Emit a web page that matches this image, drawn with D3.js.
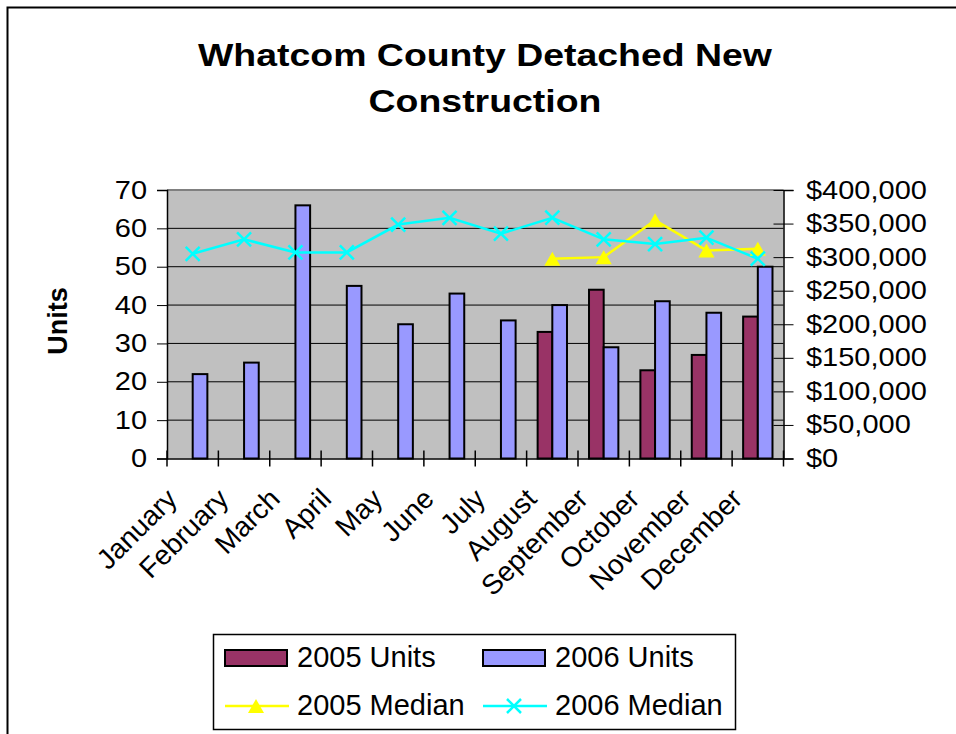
<!DOCTYPE html>
<html>
<head>
<meta charset="utf-8">
<script src="https://cdn.jsdelivr.net/npm/d3@7"></script>
<style>
  body { margin: 0; background: #fff; }
  text { font-family: "Liberation Sans", Arial, sans-serif; fill: #000; }
</style>
</head>
<body>
<svg width="956" height="734"></svg>
<script>
// data
var months = ["January", "February", "March", "April", "May", "June",
              "July", "August", "September", "October", "November", "December"];
var units2005 = [null, null, null, null, null, null, null, 33, 44, 23, 27, 37];
var units2006 = [22, 25, 66, 45, 35, 43, 36, 40, 29, 41, 38, 50];
var median2005 = [null, null, null, null, null, null, null, 297500, 300000, 355000, 310000, 312500];
var median2006 = [305000, 326500, 307000, 307000, 348500, 358500, 335000, 358700, 326500, 319500, 329000, 297600];
var unitTicks = [0, 10, 20, 30, 40, 50, 60, 70];
var priceTicks = [0, 50000, 100000, 150000, 200000, 250000, 300000, 350000, 400000];

var svg = d3.select('svg');

var plotLeft = 167, plotRight = 783.5, plotTop = 190, plotBottom = 458.5;
var stretch = 1.16;

// outer chart border (right/bottom edges fall outside the picture)
svg.append('rect')
    .attr('x', 7.5).attr('y', 7.5)
    .attr('width', 1200).attr('height', 1200)
    .attr('fill', 'none').attr('stroke', '#000').attr('stroke-width', 2);

var x = d3.scaleBand().domain(months).range([plotLeft, plotRight]);
var yL = d3.scaleLinear().domain([0, 70]).range([plotBottom, plotTop]);
var yR = d3.scaleLinear().domain([0, 400000]).range([plotBottom, plotTop]);
var barW = x.bandwidth() / 3.5;
var cx = function(i) { return x(months[i]) + x.bandwidth() / 2; };

// keep month index with each value, drop the empty months
var pairs = function(arr) {
    return arr.map(function(v, i) { return {i: i, v: v}; })
              .filter(function(d) { return d.v != null; });
};

// plot area
svg.append('rect')
    .attr('x', plotLeft).attr('y', plotTop)
    .attr('width', plotRight - plotLeft).attr('height', plotBottom - plotTop)
    .attr('fill', '#C0C0C0');

svg.append('g').selectAll('line')
    .data(unitTicks.slice(1, -1))
    .enter().append('line')
    .attr('x1', plotLeft).attr('x2', plotRight)
    .attr('y1', function(d) { return yL(d); })
    .attr('y2', function(d) { return yL(d); })
    .attr('stroke', '#000').attr('stroke-width', 1);

svg.append('line')
    .attr('x1', plotLeft).attr('x2', plotRight).attr('y1', plotTop).attr('y2', plotTop)
    .attr('stroke', '#808080').attr('stroke-width', 2);

// bars
svg.append('g').selectAll('rect')
    .data(pairs(units2005))
    .enter().append('rect')
    .attr('x', function(d) { return cx(d.i) - barW; })
    .attr('y', function(d) { return yL(d.v); })
    .attr('width', barW)
    .attr('height', function(d) { return plotBottom - yL(d.v); })
    .attr('fill', '#993366').attr('stroke', '#000').attr('stroke-width', 2);

svg.append('g').selectAll('rect')
    .data(pairs(units2006))
    .enter().append('rect')
    .attr('x', function(d) { return cx(d.i); })
    .attr('y', function(d) { return yL(d.v); })
    .attr('width', barW)
    .attr('height', function(d) { return plotBottom - yL(d.v); })
    .attr('fill', '#9999FF').attr('stroke', '#000').attr('stroke-width', 2);

// axes
var axL = svg.append('g')
    .attr('transform', 'translate(' + plotLeft + ',0)')
    .call(d3.axisLeft(yL).tickValues(unitTicks).tickSize(10).tickPadding(10));
axL.select('.domain').attr('stroke', '#000').attr('stroke-width', 1.5);
axL.selectAll('text')
    .attr('x', -20 / stretch)
    .attr('transform', 'scale(' + stretch + ',1)')
    .style('font-size', '25px');

var axR = svg.append('g')
    .attr('transform', 'translate(' + plotRight + ',0)')
    .call(d3.axisRight(yR).tickValues(priceTicks).tickSize(10)
        .tickFormat(d3.format('$,')));
axR.select('.domain').attr('stroke', '#000').attr('stroke-width', 1.5);
axR.selectAll('.tick line').attr('x1', -10);
axR.selectAll('text')
    .attr('x', 22.5 / stretch)
    .attr('transform', 'scale(' + stretch + ',1)')
    .style('font-size', '25px');

var axB = svg.append('g')
    .attr('transform', 'translate(0,' + plotBottom + ')')
    .call(d3.axisBottom(x).tickSize(0).tickPadding(0));
axB.select('.domain').attr('stroke', '#000').attr('stroke-width', 1.5);
axB.selectAll('text')
    .attr('y', 0).attr('dy', 0)
    .attr('text-anchor', 'end')
    .attr('transform', 'translate(-14,42) rotate(-45)')
    .style('font-size', '28px');

svg.append('g').selectAll('line')
    .data(months.map(function(m) { return x(m); }).concat([plotRight]))
    .enter().append('line')
    .attr('x1', function(d) { return d; }).attr('x2', function(d) { return d; })
    .attr('y1', plotBottom - 8).attr('y2', plotBottom + 8)
    .attr('stroke', '#000').attr('stroke-width', 1.5);

// median lines
var line = d3.line()
    .x(function(d) { return cx(d.i); })
    .y(function(d) { return yR(d.v); });

svg.append('path').datum(pairs(median2005))
    .attr('d', line).attr('fill', 'none')
    .attr('stroke', '#FFFF00').attr('stroke-width', 2.5);

svg.append('path').datum(pairs(median2006))
    .attr('d', line).attr('fill', 'none')
    .attr('stroke', '#00FFFF').attr('stroke-width', 2.5);

var triangle = 'M0,-7L8,7L-8,7Z';
var cross = 'M-7,-7L7,7M-7,7L7,-7';

svg.append('g').selectAll('path')
    .data(pairs(median2005))
    .enter().append('path')
    .attr('d', triangle)
    .attr('transform', function(d) { return 'translate(' + cx(d.i) + ',' + yR(d.v) + ')'; })
    .attr('fill', '#FFFF00');

svg.append('g').selectAll('path')
    .data(pairs(median2006))
    .enter().append('path')
    .attr('d', cross)
    .attr('transform', function(d) { return 'translate(' + cx(d.i) + ',' + yR(d.v) + ')'; })
    .attr('fill', 'none').attr('stroke', '#00FFFF').attr('stroke-width', 2.5);

// title
var title = svg.append('g').attr('transform', 'translate(485,0)');
title.append('text')
    .attr('transform', 'translate(0,66) scale(1.17,1)')
    .attr('text-anchor', 'middle')
    .style('font-size', '32px').style('font-weight', 'bold')
    .text('Whatcom County Detached New');
title.append('text')
    .attr('transform', 'translate(0,112) scale(1.17,1)')
    .attr('text-anchor', 'middle')
    .style('font-size', '32px').style('font-weight', 'bold')
    .text('Construction');

// y axis title
svg.append('text')
    .attr('transform', 'translate(66.5,321) rotate(-90)')
    .attr('text-anchor', 'middle')
    .style('font-size', '27px').style('font-weight', 'bold')
    .text('Units');

// legend
var legend = svg.append('g');
legend.append('rect')
    .attr('x', 213.5).attr('y', 634.5)
    .attr('width', 522).attr('height', 95)
    .attr('fill', '#fff').attr('stroke', '#000').attr('stroke-width', 1.5);

var items = [
    {name: '2005 Units', kind: 'bar', color: '#993366', x: 225, y: 658},
    {name: '2006 Units', kind: 'bar', color: '#9999FF', x: 483, y: 658},
    {name: '2005 Median', kind: 'tri', color: '#FFFF00', x: 225, y: 706},
    {name: '2006 Median', kind: 'x', color: '#00FFFF', x: 483, y: 706}
];

var item = legend.selectAll('g.item')
    .data(items)
    .enter().append('g')
    .attr('class', 'item')
    .attr('transform', function(d) { return 'translate(' + d.x + ',' + d.y + ')'; });

item.filter(function(d) { return d.kind === 'bar'; })
    .append('rect')
    .attr('x', 0).attr('y', -8).attr('width', 62).attr('height', 16)
    .attr('fill', function(d) { return d.color; })
    .attr('stroke', '#000').attr('stroke-width', 2);

item.filter(function(d) { return d.kind !== 'bar'; })
    .append('line')
    .attr('x1', 0).attr('x2', 64)
    .attr('stroke', function(d) { return d.color; }).attr('stroke-width', 2.5);

item.filter(function(d) { return d.kind === 'tri'; })
    .append('path')
    .attr('d', triangle).attr('transform', 'translate(31,0)')
    .attr('fill', function(d) { return d.color; });

item.filter(function(d) { return d.kind === 'x'; })
    .append('path')
    .attr('d', cross).attr('transform', 'translate(31,0)')
    .attr('fill', 'none')
    .attr('stroke', function(d) { return d.color; }).attr('stroke-width', 2.5);

item.append('text')
    .attr('x', 72).attr('y', 9)
    .style('font-size', '29px')
    .text(function(d) { return d.name; });
</script>
</body>
</html>
